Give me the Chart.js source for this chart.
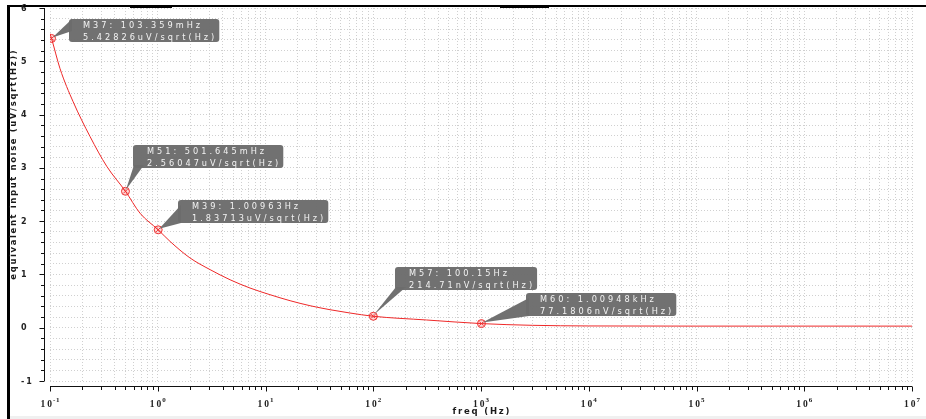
<!DOCTYPE html>
<html>
<head>
<meta charset="utf-8">
<script src="https://cdn.jsdelivr.net/npm/chart.js@4"></script>
<style>
  html, body { margin: 0; padding: 0; background: #ffffff; }
  canvas { display: block; }
</style>
</head>
<body>
<canvas id="noise" width="926" height="419"></canvas>
<script>
// Equivalent input noise spectral density, uV/sqrt(Hz), against frequency in Hz
const freqHz = [0.1, 0.103359, 0.124, 0.164, 0.235, 0.336, 0.501645, 0.684, 1.00963,
                1.30, 1.99, 3.06, 4.69, 7.18, 11.0, 16.9, 25.9, 39.7, 60.8, 100.15,
                313, 1009.48, 3000, 10000, 1e5, 1e6, 1e7];
const noiseUv = [5.52, 5.42826, 4.86, 4.24, 3.59, 3.03, 2.56047, 2.15, 1.83713,
                 1.62, 1.31, 1.09, 0.90, 0.745, 0.62, 0.507, 0.413, 0.338, 0.276, 0.21471,
                 0.145, 0.0771806, 0.045, 0.033, 0.03, 0.03, 0.03];

// Placed markers
const markerNames = ['M37', 'M51', 'M39', 'M57', 'M60'];
const markerFreqHz = [0.103359, 0.501645, 1.00963, 100.15, 1009.48];
const markerNoiseUv = [5.42826, 2.56047, 1.83713, 0.21471, 0.0771806];

// Axis ranges and labelled ticks
const xDecades = [-1, 0, 1, 2, 3, 4, 5, 6, 7];
const yLabelValues = [-1, 0, 1, 2, 3, 4, 5, 6];
const yMinorStep = 0.2;

const xTitle = 'freq (Hz)';
const yTitle = 'equivalent input noise (uV/sqrt(Hz))';

// Callout placement relative to each marker (box offset and where the tail attaches)
const calloutPlacement = [
  { dx: 17, dy: -19, tail: 'left-upper' },
  { dx: 8,  dy: -46, tail: 'bottom-left' },
  { dx: 20, dy: -30, tail: 'left-lower' },
  { dx: 22, dy: -49, tail: 'bottom-left' },
  { dx: 45, dy: -31, tail: 'left-lower' }
];

function trimNum(v) {
  let s = v.toPrecision(6);
  if (s.indexOf('.') >= 0) s = s.replace(/0+$/, '').replace(/\.$/, '');
  return s;
}
function fmtFreq(f) {
  if (f < 1) return trimNum(f * 1000) + 'mHz';
  if (f < 1000) return trimNum(f) + 'Hz';
  return trimNum(f / 1000) + 'kHz';
}
function fmtNoise(v) {
  if (v < 1) return trimNum(v * 1000) + 'nV/sqrt(Hz)';
  return trimNum(v) + 'uV/sqrt(Hz)';
}

function spacedWidth(c, s, sp) {
  let w = 0;
  for (const ch of s) w += c.measureText(ch).width;
  return w + sp * (s.length - 1);
}
function spacedText(c, s, x, y, sp) {
  let cx = x;
  for (const ch of s) { c.fillText(ch, cx, y); cx += c.measureText(ch).width + sp; }
}

const curvePoints = freqHz.map((f, i) => ({ x: f, y: noiseUv[i] }));
const markerPoints = markerFreqHz.map((f, i) => ({ x: f, y: markerNoiseUv[i] }));

const gridColor = '#d0d0d0';

// Window frame, axes drawn offset from the plot area, and tick labels
const framePlugin = {
  id: 'frame',
  beforeDraw(chart) {
    const c = chart.ctx;
    c.save();
    c.fillStyle = '#f0f0f0';
    c.fillRect(10, 416, 916, 3);
    c.fillStyle = '#000000';
    c.fillRect(7, 5, 919, 2);
    c.fillRect(130, 5, 42, 3);
    c.fillRect(500, 5, 49, 3);
    c.fillRect(7, 5, 3, 414);
    c.restore();
  },
  afterDraw(chart) {
    const c = chart.ctx;
    const xs = chart.scales.x, ys = chart.scales.y;
    const area = chart.chartArea;
    c.save();
    c.strokeStyle = '#111111';
    c.lineWidth = 1;

    // y axis
    const ax = Math.round(area.left) - 5.5;
    c.beginPath();
    c.moveTo(ax, area.top); c.lineTo(ax, area.bottom);
    ys.ticks.forEach(t => {
      const py = Math.round(ys.getPixelForValue(t.value)) + 0.5;
      const major = Math.abs(t.value - Math.round(t.value)) < 1e-6;
      c.moveTo(ax - (major ? 5 : 3.5), py); c.lineTo(ax, py);
    });
    c.stroke();

    c.fillStyle = '#222222';
    c.font = 'bold 8px "DejaVu Sans"';
    c.textBaseline = 'middle';
    c.textAlign = 'left';
    yLabelValues.forEach(v => {
      const py = ys.getPixelForValue(v);
      spacedText(c, String(v), 21, py + 0.5, 2);
    });

    // x axis
    const ay = Math.round(area.bottom) + 5.5;
    c.beginPath();
    c.moveTo(area.left, ay); c.lineTo(area.right, ay);
    xs.ticks.forEach(t => {
      const px = Math.round(xs.getPixelForValue(t.value)) + 0.5;
      const lg = Math.log10(t.value);
      const major = Math.abs(lg - Math.round(lg)) < 1e-6;
      c.moveTo(px, ay); c.lineTo(px, ay + (major ? 5 : 3.5));
    });
    c.stroke();

    c.textBaseline = 'alphabetic';
    xDecades.forEach(d => {
      const px = xs.getPixelForValue(Math.pow(10, d));
      c.font = 'bold 9.5px "Liberation Serif"';
      const base = '10';
      const bw = spacedWidth(c, base, 2);
      c.font = 'bold 7px "Liberation Serif"';
      const exp = String(d);
      const ew = spacedWidth(c, exp, 0.5);
      const x0 = px - (bw + 1 + ew) / 2;
      c.font = 'bold 9.5px "Liberation Serif"';
      spacedText(c, base, x0, 407, 2);
      c.font = 'bold 7px "Liberation Serif"';
      spacedText(c, exp, x0 + bw + 1, 402, 0.5);
    });

    // axis titles
    c.font = 'bold 8.5px "DejaVu Sans"';
    c.fillStyle = '#1a1a1a';
    const tw = spacedWidth(c, xTitle, 1.8);
    spacedText(c, xTitle, (area.left + area.right) / 2 - tw / 2, 413.5, 1.8);

    c.save();
    c.translate(15.5, 165);
    c.rotate(-Math.PI / 2);
    const yw = spacedWidth(c, yTitle, 1.6);
    spacedText(c, yTitle, -yw / 2, 0, 1.6);
    c.restore();

    c.restore();
  }
};

// Grey callouts naming each marker with its frequency and value
const calloutPlugin = {
  id: 'callouts',
  afterDatasetsDraw(chart) {
    const c = chart.ctx;
    const xs = chart.scales.x, ys = chart.scales.y;
    c.save();
    c.font = '8.2px "DejaVu Sans"';
    const sp = 3;
    markerNames.forEach((name, i) => {
      const mx = xs.getPixelForValue(markerFreqHz[i]);
      const my = ys.getPixelForValue(markerNoiseUv[i]);
      const pl = calloutPlacement[i];
      const l1 = name + ': ' + fmtFreq(markerFreqHz[i]);
      const l2 = fmtNoise(markerNoiseUv[i]);
      const w = Math.max(spacedWidth(c, l1, sp), spacedWidth(c, l2, sp)) + 19;
      const h = 23;
      const bx = Math.round(mx + pl.dx), by = Math.round(my + pl.dy);

      c.fillStyle = 'rgba(108,108,108,0.97)';
      c.beginPath();
      c.roundRect(bx, by, w, h, 3);
      c.fill();
      c.beginPath();
      if (pl.tail === 'left-upper') {
        c.moveTo(bx + 3, by); c.lineTo(mx + 1, my - 1); c.lineTo(bx + 3, by + 12);
      } else if (pl.tail === 'left-lower') {
        c.moveTo(bx + 3, by + 5); c.lineTo(mx + 1, my - 1); c.lineTo(bx + 3, by + h);
      } else {
        c.moveTo(bx + 1, by + h - 3); c.lineTo(mx + 0.5, my - 1.5); c.lineTo(bx + 11, by + h - 3);
      }
      c.closePath();
      c.fill();

      c.fillStyle = '#f4f4f4';
      c.textBaseline = 'alphabetic';
      spacedText(c, l1, bx + 14, by + 9, sp);
      spacedText(c, l2, bx + 14, by + 20.5, sp);
    });
    c.restore();
  }
};

new Chart(document.getElementById('noise'), {
  type: 'line',
  data: {
    datasets: [
      {
        label: 'noise',
        data: curvePoints,
        borderColor: 'rgb(238,40,40)',
        borderWidth: 1,
        pointRadius: 0,
        cubicInterpolationMode: 'monotone',
        fill: false
      },
      {
        label: 'marker ring',
        data: markerPoints,
        showLine: false,
        pointStyle: 'circle',
        pointRadius: 4,
        backgroundColor: 'rgba(255,90,90,0.25)',
        borderColor: 'rgb(238,50,50)',
        borderWidth: 1
      },
      {
        label: 'marker cross',
        data: markerPoints,
        showLine: false,
        pointStyle: 'crossRot',
        pointRadius: 3,
        borderColor: 'rgb(238,50,50)',
        borderWidth: 1
      }
    ]
  },
  options: {
    responsive: false,
    animation: false,
    devicePixelRatio: 1,
    layout: { padding: { left: 50, right: 14, top: 8, bottom: 38 } },
    plugins: { legend: { display: false }, tooltip: { enabled: false } },
    scales: {
      x: {
        type: 'logarithmic',
        min: 0.1,
        max: 1e7,
        afterBuildTicks(scale) {
          const ticks = [];
          xDecades.forEach(d => {
            for (let m = 1; m <= 9; m++) {
              if (d === 7 && m > 1) break;
              ticks.push({ value: m * Math.pow(10, d) });
            }
          });
          scale.ticks = ticks;
        },
        ticks: { display: false, autoSkip: false },
        grid: { color: gridColor, lineWidth: 1, drawTicks: false },
        border: { display: false, dash: [1, 2] }
      },
      y: {
        type: 'linear',
        min: -1,
        max: 6,
        afterBuildTicks(scale) {
          const ticks = [];
          const n = Math.round((6 - -1) / yMinorStep);
          for (let k = 0; k <= n; k++) ticks.push({ value: -1 + k * yMinorStep });
          scale.ticks = ticks;
        },
        ticks: { display: false, autoSkip: false },
        grid: { color: gridColor, lineWidth: 1, drawTicks: false },
        border: { display: false, dash: [1, 2] }
      }
    }
  },
  plugins: [framePlugin, calloutPlugin]
});
</script>
</body>
</html>
